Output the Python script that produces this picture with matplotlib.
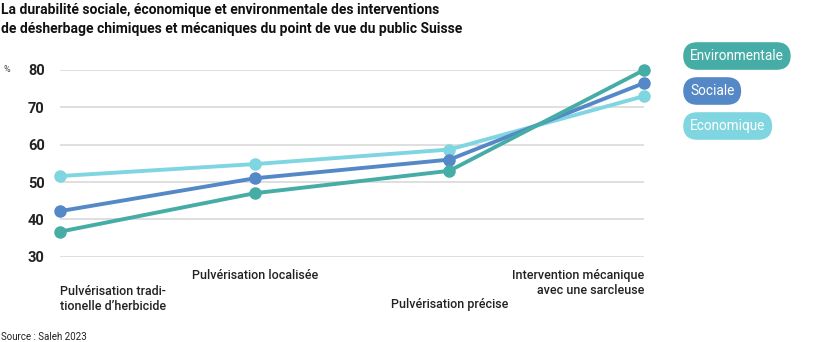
import matplotlib.pyplot as plt
import matplotlib.transforms as mtransforms
import matplotlib as mpl

mpl.rcParams['font.family'] = ['Roboto', 'DejaVu Sans']

# Data
categories = ['Pulvérisation tradi-\ntionelle d\u2019herbicide', 'Pulvérisation localisée',
              'Pulvérisation précise', 'Intervention mécanique\navec une sarcleuse']
environmentale = [36.7, 47.0, 53.0, 80.0]
sociale = [42.2, 51.0, 56.0, 76.5]
economique = [51.6, 54.8, 58.7, 73.0]
series_names = ['Environmentale', 'Sociale', 'Economique']
yticks = [30, 40, 50, 60, 70, 80]

colors = {'Environmentale': '#46ada6', 'Sociale': '#5588c6', 'Economique': '#7fd6e0'}

W, H = 836, 342
fig = plt.figure(figsize=(W / 100, H / 100), dpi=100)
ax = fig.add_axes([60 / W, 1 - 256.7 / H, (644 - 60) / W, (256.7 - 70) / H])

x = list(range(len(categories)))
for name, vals in [('Economique', economique), ('Sociale', sociale), ('Environmentale', environmentale)]:
    ax.plot(x, vals, color=colors[name], lw=2.8, marker='o', markersize=8,
            solid_capstyle='round', clip_on=False, zorder=3)

ax.set_xlim(0, 3)
ax.set_ylim(30, 80)
for t in yticks:
    ax.axhline(t, color='#d9d9d9', lw=1.2, zorder=1)
ax.set_yticks(yticks)
ax.set_xticks([])
ax.tick_params(axis='y', length=0, pad=11, labelsize=10.5, labelcolor='#222222')
for lab in ax.get_yticklabels():
    lab.set_fontweight('bold')
for s in ax.spines.values():
    s.set_visible(False)

fig.text(3 / W, 1 - 70 / H, '%', fontsize=6.5, color='#444444', va='center', ha='left')

# category labels, staggered
trans = mtransforms.blended_transform_factory(ax.transData, fig.transFigure)
lab_kw = dict(fontsize=9, fontweight='medium', color='#222222', linespacing=1.2,
              transform=trans, va='top')
ax.text(x[0], 1 - 285 / H, categories[0], ha='left', **lab_kw)
ax.text(x[1], 1 - 269 / H, categories[1], ha='center', **lab_kw)
ax.text(x[2], 1 - 298 / H, categories[2], ha='center', **lab_kw)
ax.text(x[3], 1 - 269 / H, categories[3], ha='right', multialignment='right', **lab_kw)

# title
fig.text(1 / W, 1 - 3 / H,
         'La durabilité sociale, économique et environmentale des interventions\n'
         'de désherbage chimiques et mécaniques du point de vue du public Suisse',
         fontsize=10, fontweight='bold', color='#111111', va='top', ha='left', linespacing=1.5)

# legend pills
for name, yc in zip(series_names, [56, 91, 126]):
    fig.text(690 / W, 1 - yc / H, name, fontsize=9.8, color='white', va='center', ha='left',
             bbox=dict(boxstyle='round,pad=0.5,rounding_size=1.05', fc=colors[name], ec='none'))

fig.text(1 / W, 1 - 337 / H, 'Source : Saleh 2023', fontsize=7, color='#222222', va='center', ha='left')

fig.savefig('out.png', dpi=100)
